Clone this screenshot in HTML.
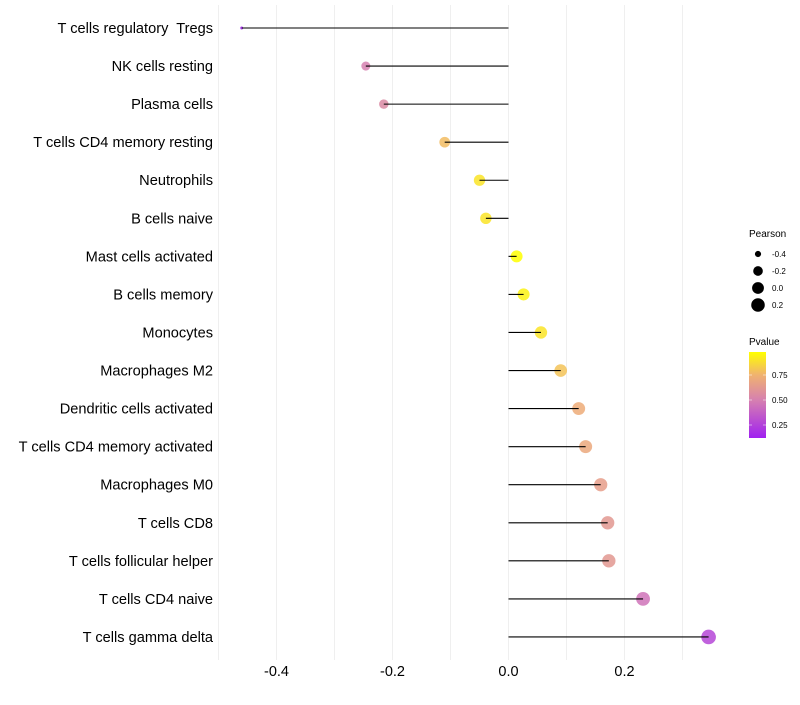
<!DOCTYPE html>
<html><head><meta charset="utf-8"><style>
body{margin:0;background:#fff;font-family:"Liberation Sans",sans-serif}
</style></head><body>
<svg id="c" width="800" height="700" xmlns="http://www.w3.org/2000/svg"></svg>
<script>
const categories=["T cells regulatory  Tregs","NK cells resting","Plasma cells","T cells CD4 memory resting","Neutrophils","B cells naive","Mast cells activated","B cells memory","Monocytes","Macrophages M2","Dendritic cells activated","T cells CD4 memory activated","Macrophages M0","T cells CD8","T cells follicular helper","T cells CD4 naive","T cells gamma delta"];
const pearson=[-0.46,-0.246,-0.215,-0.11,-0.05,-0.039,0.014,0.026,0.056,0.09,0.121,0.133,0.159,0.171,0.173,0.232,0.345];
const pvalues=[0.13,0.5,0.55,0.78,0.9,0.9,0.98,0.94,0.9,0.8,0.72,0.7,0.65,0.62,0.62,0.45,0.27];
const xTicks=[-0.4,-0.2,0.0,0.2];
const xTickLabels=["-0.4","-0.2","0.0","0.2"];
const sizeLegend=[-0.4,-0.2,0.0,0.2];
const colorLegend=[0.75,0.5,0.25];

const svg=document.getElementById('c');
const NS="http://www.w3.org/2000/svg";
function mk(t,a,p){const e=document.createElementNS(NS,t);for(const k in a)e.setAttribute(k,a[k]);(p||svg).appendChild(e);return e;}
const x=v=>508.5+v*580;
const y=i=>28+i*38.06;
const r=v=>1.5+6.5*Math.sqrt(Math.max(0,v+0.46));
const stops=[[0.12,[160,32,240]],[0.5,[214,128,176]],[0.75,[240,178,112]],[0.98,[255,255,0]]];
function col(p){p=Math.max(0.12,Math.min(0.98,p));for(let i=0;i<stops.length-1;i++){const[a,c1]=stops[i],[b,c2]=stops[i+1];if(p<=b){const t=(p-a)/(b-a);return `rgb(${c1.map((c,j)=>Math.round(c+(c2[j]-c)*t)).join(',')})`;}}return 'rgb(255,255,0)';}

for(let v=-0.5;v<=0.31;v+=0.1){
  const g=mk('line',{x1:x(v),x2:x(v),y1:5,y2:660,stroke:'#efefef','stroke-width':1});
  
  
}
xTicks.forEach((v,i)=>{
  const t=mk('text',{x:x(v),y:676,'text-anchor':'middle','font-size':14.5,fill:'#000'});
  t.textContent=xTickLabels[i];
  
  
});
categories.forEach((c,i)=>{
  const t=mk('text',{x:213,y:y(i)+5,'text-anchor':'end','font-size':14.6,fill:'#000','xml:space':'preserve',style:'white-space:pre'});
  t.textContent=c;
  
  
  const ci=mk('circle',{cx:x(pearson[i]),cy:y(i),r:r(pearson[i]),fill:col(pvalues[i]),'fill-opacity':0.85});
  
  
  const l=mk('line',{x1:x(0),x2:x(pearson[i]),y1:y(i),y2:y(i),stroke:'#000','stroke-width':1.1});
  
  
});
let t=mk('text',{x:749,y:237,'font-size':10});t.textContent='Pearson';


sizeLegend.forEach((v,i)=>{
  const cy=254+i*17;
  const c=mk('circle',{cx:758,cy:cy,r:r(v),fill:'#000'});
  
  
  const tt=mk('text',{x:772,y:cy+3,'font-size':8});tt.textContent=v.toFixed(1);
  
  
});
t=mk('text',{x:749,y:345,'font-size':10});t.textContent='Pvalue';


const defs=mk('defs',{});const lg=mk('linearGradient',{id:'g',x1:0,y1:1,x2:0,y2:0},defs);
stops.forEach(s=>mk('stop',{offset:(s[0]-0.12)/0.86,'stop-color':col(s[0])},lg));
const bar=mk('rect',{x:749,y:352,width:17,height:86,fill:'url(#g)'});


colorLegend.forEach(v=>{
  const yy=438-(v-0.12)*100;
  mk('line',{x1:749,x2:752,y1:yy,y2:yy,stroke:'#fff','stroke-opacity':0.5});
  mk('line',{x1:763,x2:766,y1:yy,y2:yy,stroke:'#fff','stroke-opacity':0.5});
  const tt=mk('text',{x:772,y:yy+3,'font-size':8});tt.textContent=v.toFixed(2);
  
  
});
</script>
</body></html>
